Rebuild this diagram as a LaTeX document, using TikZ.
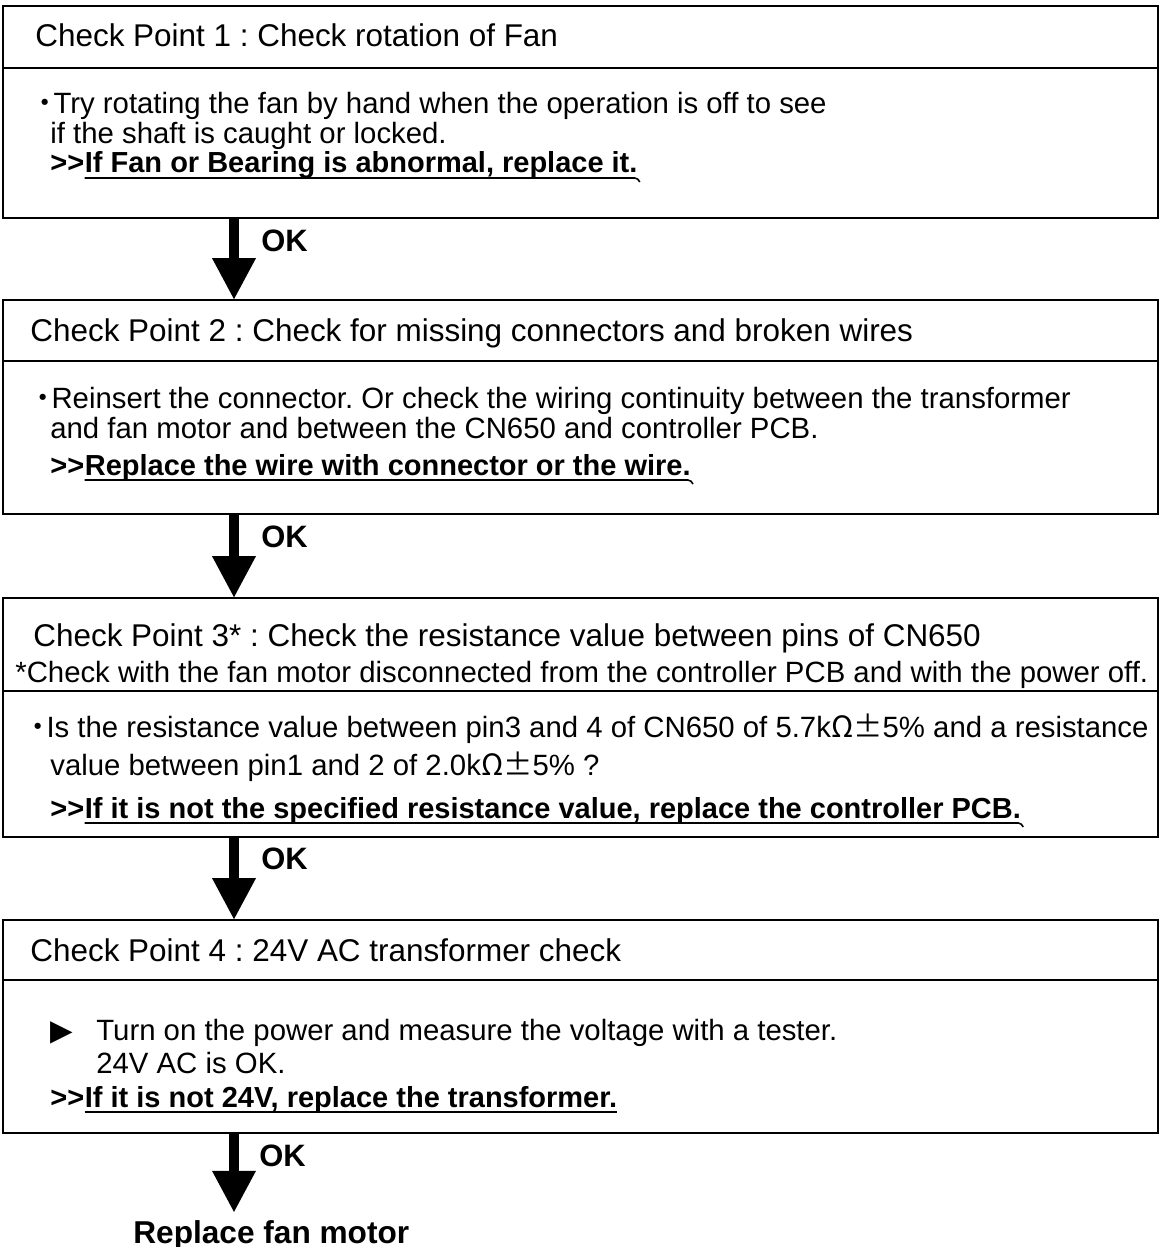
\documentclass[tikz,border=0pt]{standalone}
\usepackage{fontspec}
\setmainfont{Liberation Sans}
\newfontfamily\cjk{Noto Sans CJK JP}
\newfontfamily\symfont{DejaVu Sans}
\usetikzlibrary{arrows.meta, positioning, calc}
\newcommand{\dotmark}{{\cjk ・}\kern-0.21em}
\newcommand{\ohmpm}{{\cjk Ω±}}
\frenchspacing

\begin{document}
\begin{tikzpicture}[
    x=0.02cm, y=0.02cm,
    panel/.style={draw, line width=1.2pt, anchor=north west, inner sep=0pt, outer sep=0pt, minimum width=23.1cm, minimum height=#1},
    head/.style={anchor=base west, inner sep=0pt, font=\fontsize{17.9}{20}\selectfont},
    txt/.style={anchor=base west, inner sep=0pt, font=\fontsize{16.7}{19}\selectfont},
    txtb/.style={anchor=base west, inner sep=0pt, font=\fontsize{16.5}{19}\selectfont\bfseries},
    lbl/.style={anchor=base west, inner sep=0pt, font=\fontsize{17.6}{20}\selectfont\bfseries},
    okarrow/.style={line width=0.2cm, -{Triangle[length=0.84cm, width=0.82cm]}},
    uline/.style={line width=0.9pt}
  ]
    \useasboundingbox (0,0) rectangle (1160,-1247);
    \coordinate (ax) at (234,0);

    % Check Point 1
    \node[panel=1.24cm] (cp1h) at (3,-6) {};
    \node[panel=3.0cm]  (cp1b) at (cp1h.south west) {};
    \node[head] (h1)  at (35,-47)  {Check Point 1 : Check rotation of Fan};
    \node[txt]  (b1a) at (30,-113) {\dotmark Try rotating the fan by hand when the operation is off to see};
    \node[txt]  (b1b) at (50,-143) {if the shaft is caught or locked.};
    \node[txtb] (b1c) at (50,-173) {>{}>};
    \node[txtb] (u1)  at (b1c.base east) {If Fan or Bearing is abnormal, replace it.};

    % Check Point 2
    \node[panel=1.22cm] (cp2h) at (3,-300) {};
    \node[panel=3.06cm] (cp2b) at (cp2h.south west) {};
    \node[head] (h2)  at (30,-341) {Check Point 2 : Check for missing connectors and broken wires};
    \node[txt]  (b2a) at (28,-408) {\dotmark Reinsert the connector. Or check the wiring continuity between the transformer};
    \node[txt]  (b2b) at (50,-438) {and fan motor and between the CN650 and controller PCB.};
    \node[txtb] (b2c) at (50,-475) {>{}>};
    \node[txtb] (u2)  at (b2c.base east) {Replace the wire with connector or the wire.};

    % Check Point 3
    \node[panel=1.86cm] (cp3h) at (3,-598) {};
    \node[panel=2.92cm] (cp3b) at (cp3h.south west) {};
    \node[head] (h3)  at (33,-646) {Check Point 3* : Check the resistance value between pins of CN650};
    \node[txt]  (h3n) at (15,-682) {*Check with the fan motor disconnected from the controller PCB and with the power off.};
    \node[txt]  (b3a) at (23,-737) {\dotmark Is the resistance value between pin3 and 4 of CN650 of 5.7k\ohmpm 5\% and a resistance};
    \node[txt]  (b3b) at (50,-775) {value between pin1 and 2 of 2.0k\ohmpm 5\% ?};
    \node[txtb] (b3c) at (50,-818) {>{}>};
    \node[txtb] (u3)  at (b3c.base east) {If it is not the specified resistance value, replace the controller PCB.};

    % Check Point 4
    \node[panel=1.2cm]  (cp4h) at (3,-920) {};
    \node[panel=3.06cm] (cp4b) at (cp4h.south west) {};
    \node[head] (h4)  at (30,-961)  {Check Point 4 : 24V AC transformer check};
    \node[txt]  (t4)  at (50,-1040) {\symfont ▶};
    \node[txt]  (b4a) at (96,-1040) {Turn on the power and measure the voltage with a tester.};
    \node[txt]  (b4b) at (96,-1073) {24V AC is OK.};
    \node[txtb] (b4c) at (50,-1107) {>{}>};
    \node[txtb] (u4)  at (b4c.base east) {If it is not 24V, replace the transformer.};

    % underlines
    \foreach \u in {u1,u2,u3}
      \draw[uline] ($(\u.base west)+(0,-5)$) -- ($(\u.base east)+(-3,-5)$) to[out=0,in=120] ++(5,-4);
    \draw[uline] ($(u4.base west)+(0,-5)$) -- ($(u4.base east)+(0,-5)$);

    % OK arrows
    \node[lbl, font=\fontsize{18}{20}\selectfont\bfseries] (fin) at (133,-1243) {Replace fan motor};
    \draw[okarrow] (cp1b.south -| ax) -- (cp2h.north -| ax);
    \draw[okarrow] (cp2b.south -| ax) -- (cp3h.north -| ax);
    \draw[okarrow] (cp3b.south -| ax) -- (cp4h.north -| ax);
    \draw[okarrow, shorten >=0.14cm] (cp4b.south -| ax) -- (fin.north -| ax);
    \node[lbl] (ok1) at (261,-251)  {OK};
    \node[lbl] (ok2) at (261,-547)  {OK};
    \node[lbl] (ok3) at (261,-869)  {OK};
    \node[lbl] (ok4) at (259,-1166) {OK};
\end{tikzpicture}
\end{document}
